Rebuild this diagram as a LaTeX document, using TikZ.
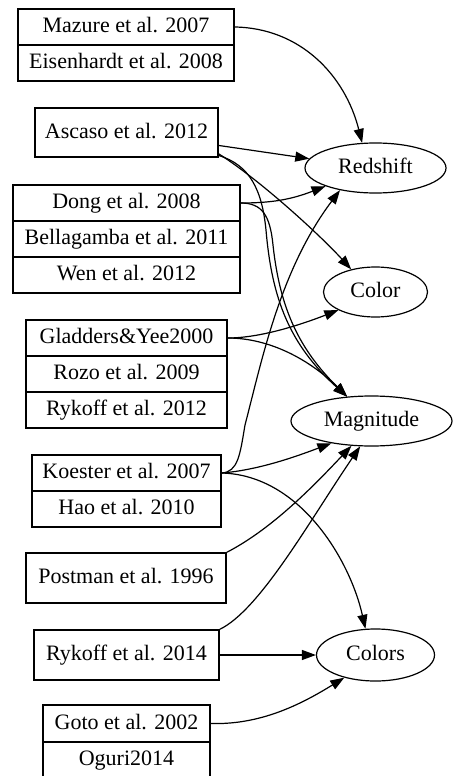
\documentclass[tikz,border=0pt]{standalone}
\usepackage{fontspec}
\setmainfont{Liberation Serif}
\usetikzlibrary{arrows.meta,shapes.geometric}
\begin{document}
\begin{tikzpicture}[x=1pt,y=-1pt,
  cell/.style={draw, line width=1.2pt, inner sep=0pt, font=\fontsize{22}{26}\selectfont,
    text height=15pt, text depth=4pt, minimum height=36pt},
  box/.style={cell, minimum height=50pt},
  oval/.style={draw, ellipse, line width=1.2pt, inner sep=0pt, font=\fontsize{22}{26}\selectfont,
    text height=15pt, text depth=4pt},
  edge/.style={line width=1.2pt, -{Triangle[length=14pt,width=10pt]}}]
\useasboundingbox (0,0) rectangle (453,776);
\clip (0,0) rectangle (453,776);
% records
\node[cell, minimum width=216pt] (maz) at (126,27) {Mazure et al. 2007};
\node[cell, minimum width=216pt] (eis) at (126,63) {Eisenhardt et al. 2008};
\node[box, minimum width=183pt, minimum height=49pt] (asc) at (126.5,132.5) {Ascaso et al. 2012};
\node[cell, minimum width=227pt] (dong) at (126.5,203) {Dong et al. 2008};
\node[cell, minimum width=227pt] (bel) at (126.5,239) {Bellagamba et al. 2011};
\node[cell, minimum width=227pt] (wen) at (126.5,275) {Wen et al. 2012};
\node[cell, minimum width=201pt] (gla) at (126.5,338) {Gladders\&Yee2000};
\node[cell, minimum width=201pt] (rozo) at (126.5,374) {Rozo et al. 2009};
\node[cell, minimum width=201pt] (r12) at (126.5,410) {Rykoff et al. 2012};
\node[cell, minimum width=189pt] (koe) at (126.5,473) {Koester et al. 2007};
\node[cell, minimum width=189pt] (hao) at (126.5,509) {Hao et al. 2010};
\node[box, minimum width=200pt] (pos) at (126,578) {Postman et al. 1996};
\node[box, minimum width=185pt] (r14) at (126.5,655) {Rykoff et al. 2014};
\node[cell, minimum width=167pt, minimum height=37pt] (goto) at (126.5,723.5) {Goto et al. 2002};
\node[cell, minimum width=167pt] (ogu) at (126.5,760) {Oguri2014};
% ellipses
\node[oval, minimum width=141pt, minimum height=50pt] (red) at (375.5,168) {Redshift};
\node[oval, minimum width=104pt, minimum height=50pt] (col) at (375.5,292) {Color};
\node[oval, minimum width=161pt, minimum height=50pt] (mag) at (371.5,421) {Magnitude};
\node[oval, minimum width=118pt, minimum height=52pt] (cols) at (375.5,655) {Colors};
% edges
\draw[edge] (maz.east) .. controls (300,28) and (345,75) .. (red.118);
\draw[edge] (asc.-8) -- (red.172);
\draw[edge] (asc.-13) .. controls (260,180) and (320,235) .. (col.137);
\draw[edge] (asc.-14) .. controls (250,165) and (262,190) .. (266,230)
  .. controls (272,300) and (290,345) .. (mag.135);
\draw[edge] (dong.east) .. controls (270,203) and (290,200) .. (red.200);
\draw[edge] (dong.east) .. controls (262,203) and (270,215) .. (273,245)
  .. controls (280,310) and (300,350) .. (mag.135);
\draw[edge] (gla.east) .. controls (260,338) and (300,325) .. (col.206);
\draw[edge] (gla.east) .. controls (270,338) and (310,360) .. (mag.135);
\draw[edge] (koe.east) .. controls (238,472) and (240,455) .. (245,425)
  .. controls (262,360) and (280,270) .. (red.212);
\draw[edge] (koe.east) .. controls (260,470) and (300,455) .. (mag.209);
\draw[edge] (koe.east) .. controls (300,475) and (350,560) .. (cols.111);
\draw[edge] (pos.north east) .. controls (270,530) and (310,490) .. (mag.231);
\draw[edge] (r14.north east) .. controls (260,610) and (310,520) .. (mag.246);
\draw[edge] (r14.east) -- (cols.180);
\draw[edge] (goto.east) .. controls (260,725) and (300,705) .. (cols.216);
\end{tikzpicture}
\end{document}
